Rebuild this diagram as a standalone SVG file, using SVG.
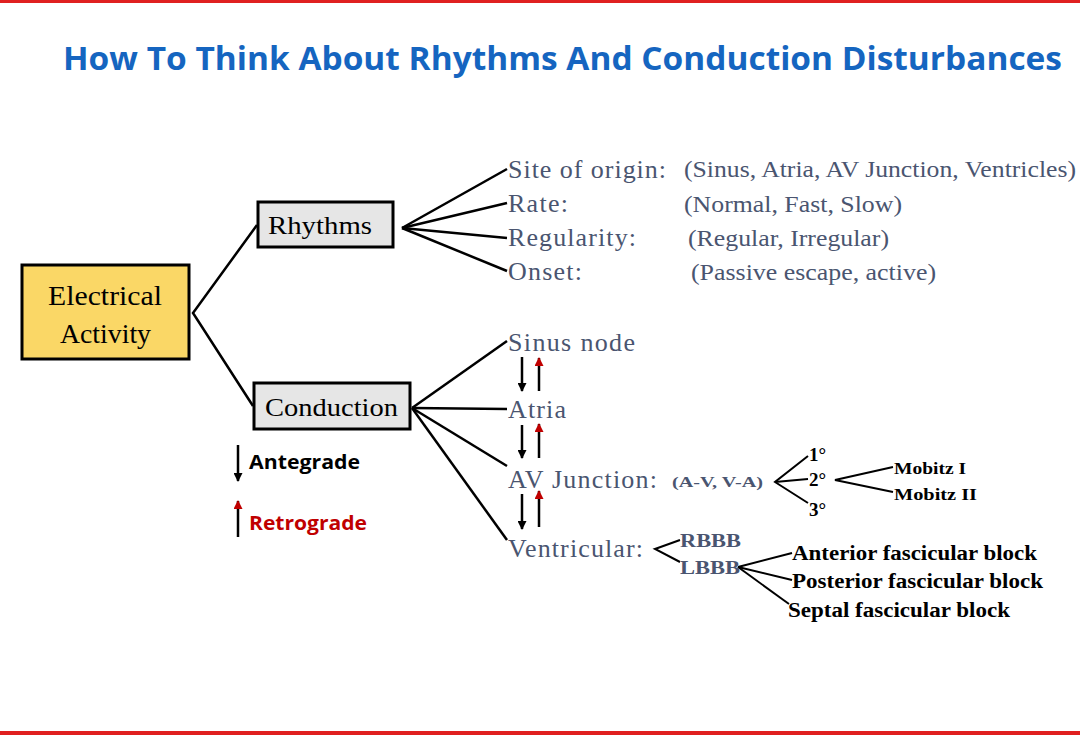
<svg xmlns="http://www.w3.org/2000/svg" width="1080" height="735" viewBox="0 0 1080 735">
<style>
.box{stroke:#000;stroke-width:3}
.c line,.c polyline{stroke:#000;stroke-width:2.5;fill:none}
.s{font-family:"Liberation Serif",serif}
.g{fill:#4a5570}
.b{font-weight:bold}
text{white-space:pre}
</style>
<defs>
<marker id="ad" viewBox="0 0 10 10" refX="9" refY="5" markerWidth="10" markerHeight="9" markerUnits="userSpaceOnUse" orient="auto"><path d="M0,0 L10,5 L0,10z" fill="#000"/></marker>
<marker id="ar" viewBox="0 0 10 10" refX="9" refY="5" markerWidth="10" markerHeight="9" markerUnits="userSpaceOnUse" orient="auto"><path d="M0,0 L10,5 L0,10z" fill="#c00000"/></marker>
</defs>
<rect width="1080" height="735" fill="#fff"/>
<rect x="0" y="0" width="1080" height="3" fill="#e02020"/>
<rect x="0" y="731" width="1080" height="4" fill="#e02020"/>
<text x="63" y="70" textLength="999" lengthAdjust="spacingAndGlyphs" font-family="Open Sans,sans-serif" font-weight="bold" font-size="32" fill="#1565c0">How To Think About Rhythms And Conduction Disturbances</text>

<g id="electrical"><rect class="box" x="22" y="265" width="167" height="94" fill="#fad766"/>
<text class="s" x="48" y="305" font-size="27" textLength="114" lengthAdjust="spacingAndGlyphs">Electrical</text>
<text class="s" x="60" y="343" font-size="27" textLength="91" lengthAdjust="spacingAndGlyphs">Activity</text></g>
<g id="rhythms"><rect class="box" x="258" y="202" width="135" height="45" fill="#e6e6e6"/>
<text class="s" x="268" y="234" font-size="26" textLength="104" lengthAdjust="spacingAndGlyphs">Rhythms</text></g>
<g id="conduction"><rect class="box" x="254" y="383" width="156" height="46" fill="#e6e6e6"/>
<text class="s" x="265" y="416" font-size="26" textLength="133" lengthAdjust="spacingAndGlyphs">Conduction</text></g>

<g class="c" id="connectors">
<polyline points="257,225 193,313 253,406"/>
<line x1="402" y1="228" x2="507" y2="169"/><line x1="402" y1="228" x2="507" y2="203"/>
<line x1="402" y1="228" x2="507" y2="238"/><line x1="402" y1="228" x2="507" y2="271"/>
<line x1="412" y1="408" x2="507" y2="341"/><line x1="412" y1="408" x2="507" y2="409"/>
<line x1="412" y1="408" x2="507" y2="466"/><line x1="412" y1="408" x2="507" y2="540"/>
<polyline points="808,456 775,482 808,503" style="stroke-width:2"/><line x1="775" y1="482" x2="808" y2="479" style="stroke-width:2"/>
<polyline points="893,467 835,480 893,492" style="stroke-width:2"/>
<polyline points="680,540 655,549 680,562" style="stroke-width:2"/>
<line x1="738" y1="567" x2="792" y2="553" style="stroke-width:2"/>
<line x1="738" y1="567" x2="792" y2="580" style="stroke-width:2"/>
<line x1="738" y1="567" x2="789" y2="604" style="stroke-width:2"/>
<g style="stroke-width:1.8">
<line x1="522" y1="357" x2="522" y2="391" stroke="#000" marker-end="url(#ad)"/>
<line x1="539" y1="391" x2="539" y2="358" stroke="#c00000" marker-end="url(#ar)"/>
<line x1="522" y1="425" x2="522" y2="458" stroke="#000" marker-end="url(#ad)"/>
<line x1="539" y1="458" x2="539" y2="424" stroke="#c00000" marker-end="url(#ar)"/>
<line x1="522" y1="494" x2="522" y2="529" stroke="#000" marker-end="url(#ad)"/>
<line x1="539" y1="527" x2="539" y2="491" stroke="#c00000" marker-end="url(#ar)"/>
<line x1="238" y1="445" x2="238" y2="481" stroke="#000" marker-end="url(#ad)"/>
<line x1="238" y1="537" x2="238" y2="501" stroke="#c00000" marker-end="url(#ar)"/>
</g>
</g>

<g class="s g" font-size="26" lengthAdjust="spacingAndGlyphs">
<text x="508" y="178" textLength="158">Site of origin:</text><text x="508" y="212" textLength="60">Rate:</text>
<text x="508" y="246" textLength="128">Regularity:</text><text x="508" y="280" textLength="74">Onset:</text>
<text x="508" y="351" textLength="127">Sinus node</text><text x="508" y="418" textLength="58">Atria</text>
<text x="508" y="488" textLength="149">AV Junction:</text><text x="508" y="557" textLength="135">Ventricular:</text>
</g>
<g class="s g" font-size="23">
<text x="684" y="177" textLength="392" lengthAdjust="spacingAndGlyphs">(Sinus, Atria, AV Junction, Ventricles)</text>
<text x="684" y="212" textLength="218" lengthAdjust="spacingAndGlyphs">(Normal, Fast, Slow)</text>
<text x="688" y="246" textLength="201" lengthAdjust="spacingAndGlyphs">(Regular, Irregular)</text>
<text x="691" y="280" textLength="245" lengthAdjust="spacingAndGlyphs">(Passive escape, active)</text>
</g>
<text class="s g b" x="672" y="487" font-size="15" textLength="91" lengthAdjust="spacingAndGlyphs">(A-V, V-A)</text>
<g class="s b" font-size="19"><text x="809" y="461">1°</text><text x="809" y="486">2°</text><text x="809" y="516">3°</text></g>
<g class="s b" font-size="16"><text x="894" y="474" textLength="72" lengthAdjust="spacingAndGlyphs">Mobitz I</text><text x="894" y="500" textLength="83" lengthAdjust="spacingAndGlyphs">Mobitz II</text></g>
<g class="s g b" font-size="19"><text x="680" y="547" textLength="61" lengthAdjust="spacingAndGlyphs">RBBB</text><text x="680" y="574" textLength="60" lengthAdjust="spacingAndGlyphs">LBBB</text></g>
<g class="s b" font-size="20"><text x="792" y="560" textLength="245" lengthAdjust="spacingAndGlyphs">Anterior fascicular block</text><text x="792" y="588" textLength="251" lengthAdjust="spacingAndGlyphs">Posterior fascicular block</text><text x="788" y="617" textLength="222" lengthAdjust="spacingAndGlyphs">Septal fascicular block</text></g>
<text x="249" y="469" font-family="Open Sans,sans-serif" font-weight="bold" font-size="19" textLength="111" lengthAdjust="spacingAndGlyphs">Antegrade</text>
<text x="249" y="530" font-family="Open Sans,sans-serif" font-weight="bold" font-size="19" fill="#c00000" textLength="118" lengthAdjust="spacingAndGlyphs">Retrograde</text>
</svg>
